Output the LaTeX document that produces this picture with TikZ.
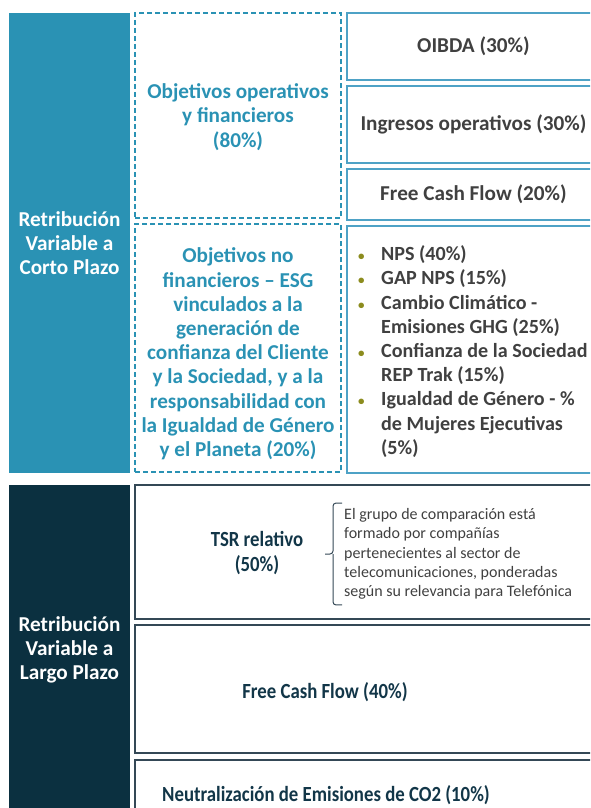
\documentclass[tikz,border=0pt]{standalone}
\usepackage{fontspec}
\setmainfont{Carlito}
\newfontfamily\estrecha{Carlito}[FakeStretch=0.87]

\definecolor{turquesa}{RGB}{42,146,180}
\definecolor{marino}{RGB}{11,48,64}
\definecolor{celeste}{RGB}{78,162,198}
\definecolor{pizarra}{RGB}{52,72,86}
\definecolor{grisTexto}{RGB}{64,64,64}
\definecolor{marinoTexto}{RGB}{18,54,72}
\definecolor{olivo}{RGB}{140,140,30}

\newcommand{\letra}{\fontsize{21.2}{24.2}\selectfont\bfseries}
\newcommand{\letraLista}{\fontsize{20.1}{24.2}\selectfont\bfseries}
\newcommand{\letraLP}{\estrecha\fontsize{21.6}{25}\selectfont\bfseries}
\newcommand{\letrita}{\fontsize{16}{19.4}\selectfont}
\newcommand{\punto}{\makebox[24pt][l]{\hspace{1pt}\color{olivo}\fontsize{13}{13}\selectfont\textbullet}}

\tikzset{
  bloque/.style={rectangle,inner sep=0pt,outer sep=0pt,text=white,align=center,font=\letra},
  objetivo/.style={rectangle,draw=turquesa,line width=1.3pt,dash pattern=on 5pt off 3pt,inner sep=0pt,outer sep=0pt},
  textoObj/.style={text=turquesa,align=center,font=\letra},
  metrica/.style={rectangle,draw=celeste,line width=1.5pt,inner sep=0pt,outer sep=0pt,text=grisTexto,font=\letra},
  metricaLP/.style={rectangle,draw=pizarra,line width=1.5pt,inner sep=0pt,outer sep=0pt},
  textoLP/.style={text=marinoTexto,align=center,font=\letraLP},
  aclaracion/.style={text=grisTexto,align=left,font=\letrita,inner xsep=0pt,inner ysep=5pt},
  llave/.style={pizarra,line width=1pt,rounded corners=3pt}
}

\begin{document}
\begin{tikzpicture}[x=1pt,y=-1pt]
            \useasboundingbox (0,0) rectangle (590,808);
            \clip (0,0) rectangle (590,808);

            \node[bloque,fill=turquesa,minimum width=121pt,minimum height=460pt] (corto) at (69.5,243) {Retribución\\Variable a\\Corto Plazo};
            \node[bloque,fill=marino,minimum width=121pt,minimum height=330pt] (largo) at (69.5,650) {Retribución\\Variable a\\Largo Plazo};

            \node[objetivo,minimum width=206pt,minimum height=205pt] (opFin) at (238,115.5) {};
            \node[textoObj] (opFinTxt) at (238,117) {Objetivos operativos\\y financieros\\(80\%)};
            \node[objetivo,minimum width=206pt,minimum height=248pt] (noFin) at (238,348) {};
            \node[textoObj] (noFinTxt) at (238,354) {Objetivos no\\financieros -- ESG\\vinculados a la\\generación de\\confianza del Cliente\\y la Sociedad, y a la\\responsabilidad con\\la Igualdad de Género\\y el Planeta (20\%)};

            \node[metrica,minimum width=253pt,minimum height=67pt] (oibda) at (473.5,46.5) {OIBDA (30\%)};
            \node[metrica,minimum width=253pt,minimum height=77pt] (ingresos) at (473.5,124.5) {Ingresos operativos (30\%)};
            \node[metrica,minimum width=253pt,minimum height=51pt] (fcf) at (473.5,194.5) {Free Cash Flow (20\%)};
            \node[metrica,minimum width=253pt,minimum height=247pt] (esg) at (473.5,349.5) {};
            \node[anchor=west,inner sep=0pt,align=left,text=grisTexto,font=\letraLista] (esgLista) at (357,351.5)
              {\punto NPS (40\%)\\
               \punto GAP NPS (15\%)\\
               \punto Cambio Climático -\\
               \hspace*{24pt}Emisiones GHG (25\%)\\
               \punto Confianza de la Sociedad\\
               \hspace*{24pt}REP Trak (15\%)\\
               \punto Igualdad de Género - \%\\
               \hspace*{24pt}de Mujeres Ejecutivas\\
               \hspace*{24pt}(5\%)};

            \node[metricaLP,minimum width=465pt,minimum height=134pt] (tsr) at (367.5,552) {};
            \node[textoLP] (tsrTxt) at (257,553.5) {TSR relativo\\(50\%)};
            \node[aclaracion,anchor=west] (nota) at (344,554) {El grupo de comparación está\\formado por compañías\\pertenecientes al sector de\\telecomunicaciones, ponderadas\\según su relevancia para Telefónica};
            \draw[llave] ([xshift=-2pt]nota.north west) -| ([xshift=-11pt]nota.west) -- ([xshift=-19pt]nota.west);
            \draw[llave] ([xshift=-2pt]nota.south west) -| ([xshift=-11pt]nota.west);

            \node[metricaLP,minimum width=465pt,minimum height=128pt] (fcfLP) at (367.5,689) {};
            \node[textoLP] (fcfLPTxt) at (325,692) {Free Cash Flow (40\%)};
            \node[metricaLP,minimum width=465pt,minimum height=70pt] (co2) at (367.5,795) {};
            \node[textoLP] (co2Txt) at (326,795) {Neutralización de Emisiones de CO2 (10\%)};
          \end{tikzpicture}
\end{document}
